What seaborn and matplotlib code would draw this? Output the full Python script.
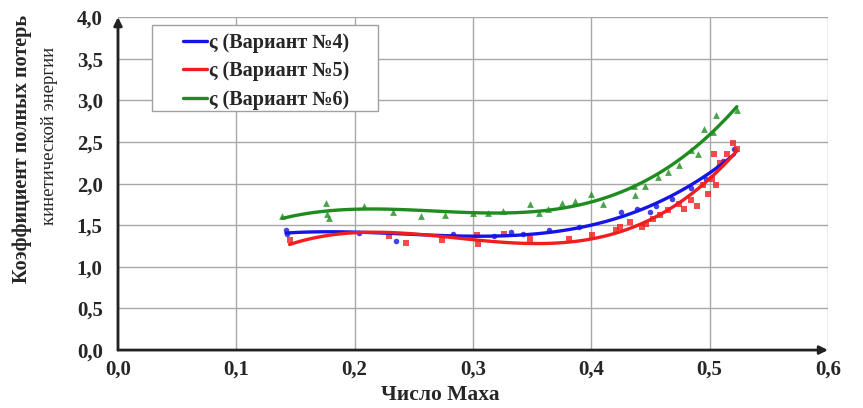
import numpy as np
import pandas as pd
import matplotlib
matplotlib.use("Agg")
import matplotlib.pyplot as plt
from matplotlib.lines import Line2D
from matplotlib.patches import Rectangle
import seaborn as sns

# Mach number and total kinetic-energy loss coefficient for three variants
mach4 = [0.142, 0.143, 0.204, 0.235, 0.283, 0.318, 0.332, 0.342, 0.364, 0.390,
         0.425, 0.439, 0.450, 0.455, 0.468, 0.484, 0.497, 0.507, 0.511, 0.521]
zeta4 = [1.44, 1.40, 1.41, 1.31, 1.39, 1.37, 1.42, 1.40, 1.44, 1.48,
         1.66, 1.69, 1.66, 1.73, 1.82, 1.95, 2.05, 2.20, 2.27, 2.42]

mach5 = [0.145, 0.229, 0.243, 0.274, 0.303, 0.304, 0.326, 0.348, 0.381, 0.401,
         0.421, 0.424, 0.433, 0.443, 0.446, 0.452, 0.458, 0.465, 0.474, 0.478,
         0.484, 0.489, 0.494, 0.499, 0.502, 0.504, 0.505, 0.509, 0.515, 0.520, 0.523]
zeta5 = [1.32, 1.37, 1.29, 1.32, 1.38, 1.28, 1.39, 1.33, 1.34, 1.38,
         1.44, 1.48, 1.54, 1.48, 1.51, 1.57, 1.62, 1.68, 1.75, 1.70,
         1.80, 1.73, 1.98, 1.88, 2.05, 2.35, 1.98, 2.25, 2.35, 2.49, 2.42]

mach6 = [0.139, 0.176, 0.177, 0.178, 0.208, 0.232, 0.256, 0.276, 0.300, 0.313,
         0.325, 0.348, 0.356, 0.363, 0.375, 0.386, 0.400, 0.410, 0.436, 0.437,
         0.445, 0.456, 0.465, 0.474, 0.484, 0.490, 0.495, 0.503, 0.505, 0.523]
zeta6 = [1.61, 1.77, 1.63, 1.59, 1.73, 1.66, 1.61, 1.62, 1.65, 1.65,
         1.67, 1.75, 1.65, 1.70, 1.77, 1.79, 1.88, 1.76, 1.97, 1.86,
         1.97, 2.08, 2.14, 2.22, 2.40, 2.35, 2.65, 2.62, 2.83, 2.88]

series_labels = ["ς (Вариант №4)", "ς (Вариант №5)", "ς (Вариант №6)"]
x_ticks = [0.0, 0.1, 0.2, 0.3, 0.4, 0.5, 0.6]
x_tick_labels = ["0,0", "0,1", "0,2", "0,3", "0,4", "0,5", "0,6"]
y_ticks = [0.0, 0.5, 1.0, 1.5, 2.0, 2.5, 3.0, 3.5, 4.0]
y_tick_labels = ["0,0", "0,5", "1,0", "1,5", "2,0", "2,5", "3,0", "3,5", "4,0"]

sns.set_theme(style="white")
plt.rcParams["font.family"] = ["Liberation Serif", "DejaVu Serif"]

fig = plt.figure(figsize=(8.63, 4.08), dpi=100)
ax = fig.add_axes([0.1367, 0.142, 0.8227, 0.816])

colors = ["#1414e6", "#f01e1e", "#1e8c1e"]
markers = ["o", "s", "^"]
msizes = [16, 24, 24]
datasets = [(mach4, zeta4), (mach5, zeta5), (mach6, zeta6)]

# points with cubic trend lines
for (mx, zy), c, m, s in zip(datasets, colors, markers, msizes):
    df = pd.DataFrame({"M": mx, "zeta": zy})
    sns.regplot(data=df, x="M", y="zeta", order=3, ci=None, ax=ax,
                marker=m, color=c,
                scatter_kws={"s": s, "linewidths": 0, "zorder": 3},
                line_kws={"lw": 2.4, "zorder": 4})

ax.set_xlim(0, 0.6)
ax.set_ylim(0, 4.0)
ax.set_xticks(x_ticks)
ax.set_xticklabels(x_tick_labels)
ax.set_yticks(y_ticks)
ax.set_yticklabels(y_tick_labels)
ax.tick_params(length=0, labelsize=15)
ax.tick_params(axis="x", pad=7)
ax.tick_params(axis="y", pad=11)
for lbl in ax.get_xticklabels() + ax.get_yticklabels():
    lbl.set_fontweight("bold")

ax.grid(True, color="#a8a8a8", lw=1.0)
ax.set_axisbelow(True)
for sp in ax.spines.values():
    sp.set_visible(False)

# axes with arrowheads
ax.annotate("", xy=(0.6, 0), xytext=(0, 0), xycoords="data",
            arrowprops=dict(arrowstyle="-|>", color="#222222", lw=2,
                            mutation_scale=12, shrinkA=0, shrinkB=0),
            annotation_clip=False, zorder=5)
ax.annotate("", xy=(0, 4.0), xytext=(0, 0), xycoords="data",
            arrowprops=dict(arrowstyle="-|>", color="#222222", lw=2,
                            mutation_scale=12, shrinkA=0, shrinkB=0),
            annotation_clip=False, zorder=5)

ax.set_xlabel("Число Маха", fontsize=15.5, fontweight="bold", labelpad=0)
ax.xaxis.set_label_coords(0.4535, -0.105)
ax.set_ylabel("")
fig.text(0.026, 0.635, "Коэффициент полных потерь", rotation=90,
         ha="center", va="center", fontsize=14.5, fontweight="bold")
fig.text(0.057, 0.668, "кинетической энергии", rotation=90,
         ha="center", va="center", fontsize=13.5)

# legend: frame drawn separately so the entries sit well inside it
ax.add_patch(Rectangle((0.048, 0.718), 0.318, 0.258, transform=ax.transAxes,
                       facecolor="white", edgecolor="#a0a0a0", lw=1.0,
                       zorder=6, clip_on=False))
handles = [Line2D([], [], color=c, lw=2.4) for c in colors]
leg = ax.legend(handles, series_labels, loc="upper left",
                bbox_to_anchor=(0.091, 0.953), frameon=False,
                handlelength=1.2, handletextpad=0.1, borderpad=0,
                borderaxespad=0, labelspacing=0.42,
                prop={"size": 14.5, "weight": "bold"})
leg.set_zorder(7)

fig.savefig("out.png", dpi=100)
